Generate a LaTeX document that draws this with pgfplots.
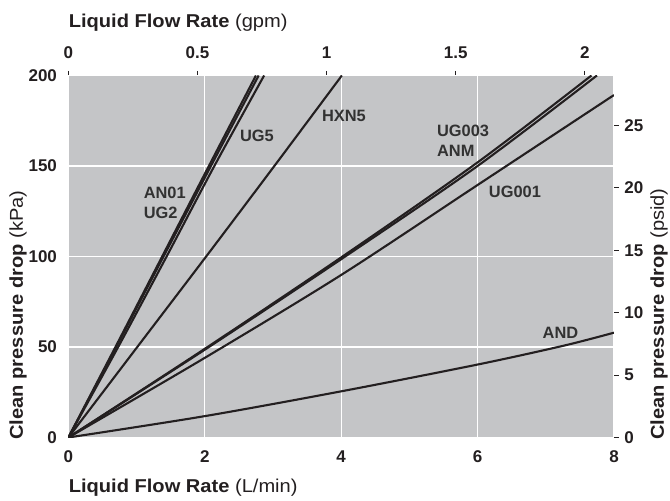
\documentclass[border=0pt]{standalone}
\usepackage{fontspec}
\setmainfont{Liberation Sans}
\newfontfamily\labfont[FakeStretch=1.08]{Liberation Sans}
\usepackage{pgfplots}
\pgfplotsset{compat=1.18}
\definecolor{plotbg}{RGB}{196,197,199}
\definecolor{ink}{RGB}{35,31,32}
\definecolor{lbl}{RGB}{50,50,50}

\begin{document}
\begin{tikzpicture}
\useasboundingbox (-34.2pt,-31.75pt) rectangle (300.8pt,218.75pt);
\begin{axis}[
    name=main,
    scale only axis, width=272.8pt, height=181pt,
    xmin=0, xmax=8, ymin=0, ymax=200,
    xtick={0,2,4,6,8}, ytick={0,50,100,150,200},
    axis background/.style={fill=plotbg},
    axis line style={draw=none},
    major tick length=0pt,
    grid=major, major grid style={white, line width=0.6pt},
    tick label style={font=\fontsize{8.5}{10}\selectfont\bfseries, text=ink},
    /pgf/number format/assume math mode=true,
    xticklabel style={yshift=-3.1pt},
    yticklabel style={xshift=-2.2pt},
    curve/.style={ink, line width=1.05pt, solid, mark=none, smooth},
]
% AN01, UG2, UG5 (steep group)
\addplot[curve] coordinates {(0,0) (0.69,50) (1.375,100) (2.06,150) (2.75,200)};
\addplot[curve] coordinates {(0,0) (0.70,50) (1.395,100) (2.09,150) (2.79,200)};
\addplot[curve] coordinates {(0,0) (0.73,50) (1.44,100) (2.14,150) (2.87,200)};
% HXN5
\addplot[curve] coordinates {(0,0) (1.01,50) (2.02,100) (3.02,150) (4.01,200)};
% UG003 / ANM
\addplot[curve] coordinates {(0,0) (2,49) (4,99.5) (6,152) (7.67,200)};
\addplot[curve] coordinates {(0,0) (2,48.5) (4,98.5) (6,150) (7.75,200)};
% UG001
\addplot[curve] coordinates {(0,0) (2,44) (4,89.8) (6,139.5) (8,189.2)};
% AND
\addplot[curve] coordinates {(0,0) (2,11.8) (4,25.5) (6,40.3) (7.26,50.7) (8,57.9)};

\begin{scope}[every node/.style={font=\fontsize{8.2}{10}\selectfont\bfseries, text=lbl, inner sep=0}]
\node[anchor=west] at (axis cs:1.10,135.4) {AN01};
\node[anchor=west] at (axis cs:1.10,124.0) {UG2};
\node at (axis cs:2.765,166.6) {UG5};
\node at (axis cs:4.04,177.6) {HXN5};
\node[anchor=west] at (axis cs:5.40,169.3) {UG003};
\node[anchor=west] at (axis cs:5.40,158.3) {ANM};
\node at (axis cs:6.548,135.6) {UG001};
\node at (axis cs:7.215,58.0) {AND};
\end{scope}
\end{axis}

\begin{axis}[
    at={(main.south west)}, anchor=south west,
    scale only axis, width=272.8pt, height=181pt,
    xmin=0, xmax=2.11338, ymin=0, ymax=29.0075,
    axis x line*=top, axis y line*=right,
    axis line style={draw=none},
    xtick={0,0.5,1,1.5,2}, ytick={0,5,10,15,20,25},
    tick align=outside, major tick length=2.25pt,
    tick style={ink, line width=0.5pt},
    tick label style={font=\fontsize{8.5}{10}\selectfont\bfseries, text=ink},
    /pgf/number format/assume math mode=true,
    xticklabel style={yshift=2.7pt},
    yticklabel style={xshift=-0.6pt},
]
\addplot[draw=none] coordinates {(0,0)};
\end{axis}

\begin{scope}[every node/.style={font=\labfont\fontsize{9.3}{11}\selectfont, text=ink, inner sep=0}]
\node[anchor=base west] at ([yshift=-27.75pt]main.south west) {\textbf{Liquid Flow Rate} (L/min)};
\node[anchor=base west] at ([yshift=24.1pt]main.north west) {\textbf{Liquid Flow Rate} (gpm)};
\node[rotate=90, anchor=west] at ([xshift=-25.2pt, yshift=-1.25pt]main.south west) {\textbf{Clean pressure drop} (kPa)};
\node[rotate=90, anchor=west] at ([xshift=22.5pt, yshift=-1.25pt]main.south east) {\textbf{Clean pressure drop} (psid)};
\end{scope}
\end{tikzpicture}
\end{document}
